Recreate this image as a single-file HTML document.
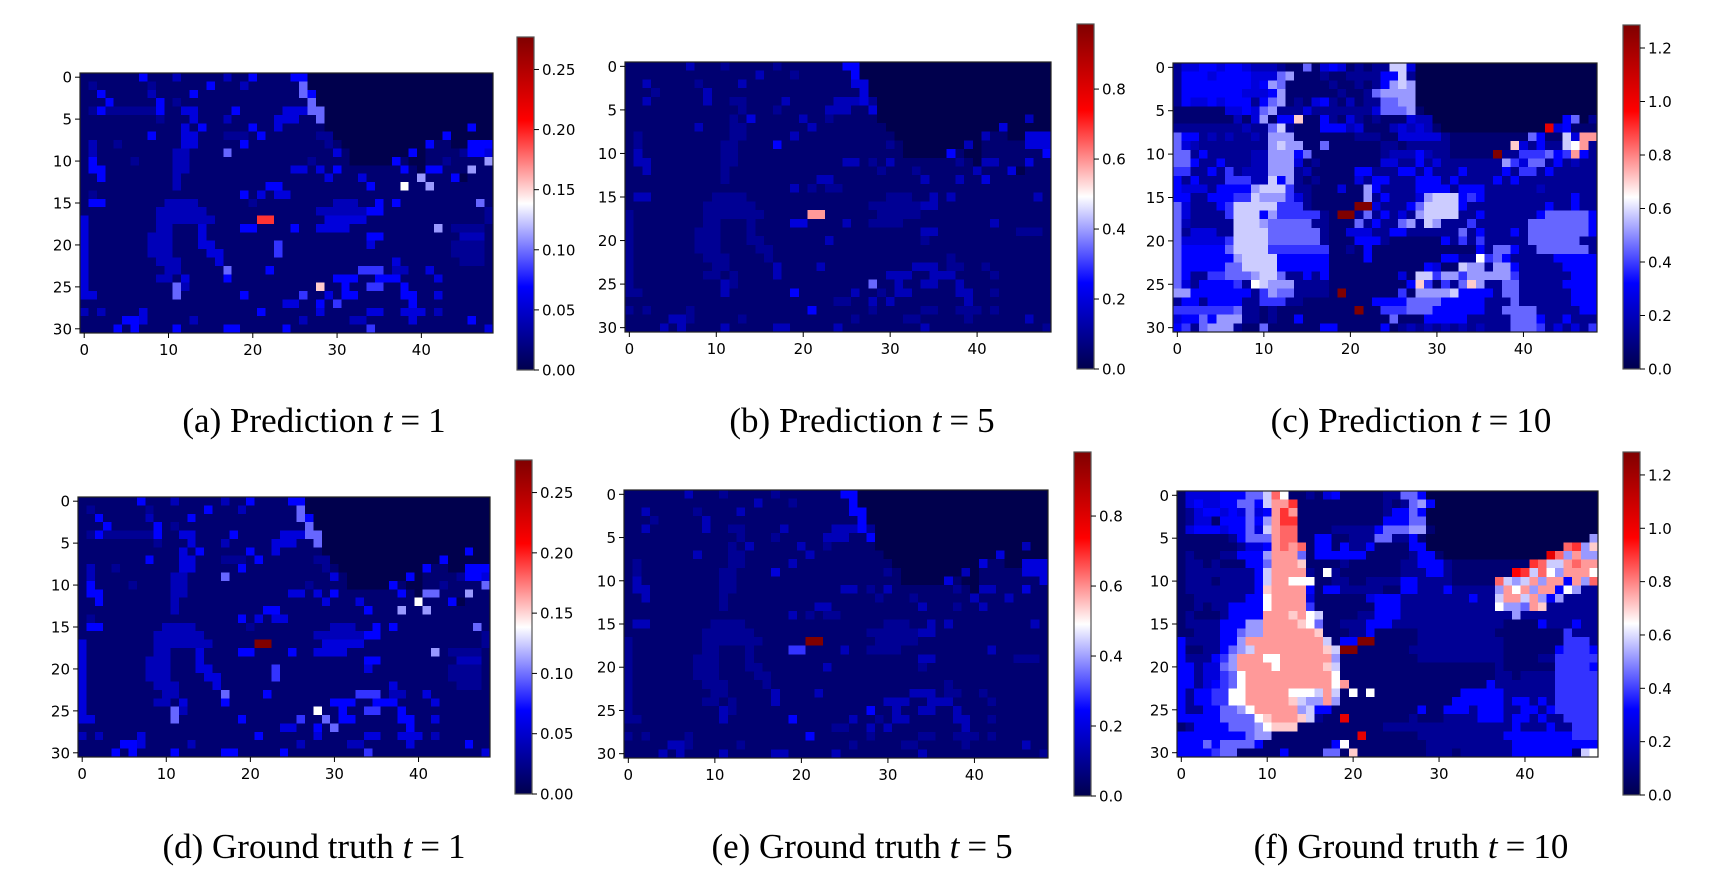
<!DOCTYPE html>
<html><head><meta charset="utf-8"><style>
html,body{margin:0;padding:0;background:#fff;}
svg{display:block;}
.tk{font-family:"DejaVu Sans",sans-serif;font-size:15px;fill:#000;}
.cap{font-family:"Liberation Serif",serif;font-size:35px;fill:#000;}
</style></head><body>
<svg id="fig" width="1710" height="882" viewBox="0 0 1710 882" xmlns="http://www.w3.org/2000/svg">
<defs>
<linearGradient id="seis" x1="0" y1="1" x2="0" y2="0">
<stop offset="0" stop-color="rgb(0,0,77)"/><stop offset="0.25" stop-color="rgb(0,0,255)"/><stop offset="0.5" stop-color="rgb(255,255,255)"/><stop offset="0.75" stop-color="rgb(255,0,0)"/><stop offset="1" stop-color="rgb(128,0,0)"/>
</linearGradient>
</defs>
</svg>
<script>
// level code: index in LEVELS => fraction of colorbar max (index/20)
const LEVELS = "0123456789ABCDEFGHIJK";
const xTickLabels = ["0","10","20","30","40"];
const yTickLabels = ["0","5","10","15","20","25","30"];
const captionLetters = ["a","b","c","d","e","f"];
const captionKinds = ["Prediction","Prediction","Prediction","Ground truth","Ground truth","Ground truth"];
const captionTimes = ["1","5","10","1","5","10"];
const vmaxValues = [0.277, 0.986, 1.286, 0.277, 0.983, 1.286];
const cbTicksSmall = [0, 0.05, 0.10, 0.15, 0.20, 0.25];
const cbTicksMid = [0, 0.2, 0.4, 0.6, 0.8];
const cbTicksBig = [0, 0.2, 0.4, 0.6, 0.8, 1.0, 1.2];

const gridA = [
"1111111511 1311111311 5111155000 0000000000 000000000",
"1211111121 1111151113 1111117000 0000000000 000000000",
"1151111131 1115111111 1111117500 0000000000 000000000",
"1115111115 1211111111 1111111700 0000000000 000000000",
"1252222225 1144111151 1111444770 0000000000 000000000",
"1111111112 1114111311 1114441170 0000000000 000000000",
"1111111111 1141511111 5114111110 0000000000 000000500",
"1111111151 1144111222 1511111122 0000000000 000500000",
"1311211111 1144111115 1111111112 1000000000 051100555",
"1311111111 1331111711 1111111111 4100000005 011112554",
"1511112111 1331111111 1111111211 1100000510 011211118",
"1551111111 1331111111 1111144141 5111111151 055111811",
"1151111111 1311111111 1111111114 1114111111 811150111",
"1111111111 1311111111 1155111111 11115111A1 181111111",
"1211111111 1111111115 1414411111 1111111111 111111111",
"1551111111 3333111111 2111111111 3331151511 111111171",
"1111111113 3333311111 1111111133 3333551111 111111112",
"4111111113 3333331111 1EE1111114 4444111111 111111112",
"4111111113 3111411115 5111151144 4411111111 118122221",
"4111111133 3111411111 1111111111 1111551111 111113331",
"4111111133 3111441111 1116111111 1111411111 111122221",
"4111111133 3111144111 1116111111 1111111111 111122221",
"4111111113 3311114111 1111111111 1111111411 111112221",
"4111111111 3311111711 1151111111 1116661331 141111111",
"4111111113 3141111511 1111111111 5551155511 114111111",
"4111111111 1731111111 11111111B1 1511661151 111111111",
"4411111111 1711111115 1111116114 1551111155 114111111",
"1111111111 1111111111 1111441151 6111111115 111111111",
"3131111411 1111111111 1511111141 1111441144 413111111",
"1111155411 1113111111 1111113111 1133111114 111111511",
"1111515111 1511111551 1111511111 1111611111 111111114"];

const gridD = [
"1111111511 1311111311 5111155000 0000000000 000000000",
"1211111121 1111151113 1111117000 0000000000 000000000",
"1151111131 1115111111 1111117500 0000000000 000000000",
"1115111115 1211111111 1111111700 0000000000 000000000",
"1252222225 1144111151 1111444770 0000000000 000000000",
"1111111112 1114111311 1114441170 0000000000 000000000",
"1111111111 1141511111 5114111110 0000000000 000000500",
"1111111151 1144111222 1511111122 0000000000 000500000",
"1311211111 1144111115 1111111112 1000000000 051100555",
"1311111111 1331111711 1111111111 4100000005 011112554",
"1511112111 1331111111 1111111211 1100000510 011211117",
"1551111111 1331111111 1111144141 5111111151 077111811",
"1151111111 1311111111 1111111114 1114111111 A11150111",
"1111111111 1311111111 1155111111 1111511181 181111111",
"1211111111 1111111115 1414411111 1111111111 111111111",
"1551111111 3333111111 2111111111 3331151511 111111171",
"1111111113 3333311111 1111111133 3333551111 111111112",
"4111111113 3333331111 1KK1111114 4444111111 111111112",
"4111111113 3111411115 5111151144 4411111111 118122221",
"4111111133 3111411111 1111111111 1111551111 111113331",
"4111111133 3111441111 1116111111 1111411111 111122221",
"4111111133 3111144111 1116111111 1111111111 111122221",
"4111111113 3311114111 1111111111 1111111411 111112221",
"4111111111 3311111711 1151111111 1116661331 141111111",
"4111111113 3141111511 1111111111 5551155511 114111111",
"4111111111 1731111111 11111111A1 1511661151 111111111",
"4411111111 1711111115 1111116117 1551111155 114111111",
"1111111111 1111111111 1111441151 7111111115 111111111",
"3131111411 1111111111 1511111141 1111441144 413111111",
"1111155411 1113111111 1111113111 1133111114 111111511",
"1111515111 1511111551 1111511111 1111611111 111111114"];

const gridB = [
"1111111311 1211111211 1111155000 0000000000 000000000",
"1111111111 1111131112 1111115000 0000000000 000000000",
"1131111121 1113111111 1111114400 0000000000 000000000",
"1112111113 1111111111 1111111400 0000000000 000000000",
"1131111113 1122111131 1111333420 0000000000 000000000",
"1111111111 1112111211 1113331140 0000000000 000000000",
"1111111111 1121411111 3112111110 0000000000 000000300",
"1111111131 1122111111 1311111111 0000000000 000400000",
"1211111111 1122111113 1111111111 1000000000 031100444",
"1211111111 1221111511 1111111111 2100000003 011111444",
"1311111111 1221111111 1111111111 1100000510 011111115",
"1331111111 1221111111 1111133121 3111111121 033111411",
"1131111111 1211111111 1111111112 1112111111 311140111",
"1111111111 1211111111 1133111111 1111311131 141111111",
"1111111111 1111111113 1212211111 1111111111 111111111",
"1331111111 2222111111 1111111111 2221131311 111111131",
"1111111112 2222211111 1111111122 2222331111 111111111",
"2111111112 2222221111 1CC1111112 2222111111 111111111",
"2111111112 2111211114 4111131122 2211111111 113111111",
"2111111122 2111211111 1111111111 1111331111 111112221",
"2111111122 2111221111 1113111111 1111211111 111111111",
"2111111122 2111122111 1111111111 1111111111 111111111",
"2111111112 2211112111 1111111111 1111111211 111111111",
"2111111111 2211111311 1131111111 1113331221 121111111",
"2111111112 2121111311 1111111111 3331133311 112111111",
"2111111111 1321111111 1111111171 1311331131 111111111",
"2211111111 1311111115 1111113112 1331111133 112111111",
"1111111111 1111111111 1111221131 3111111113 111111111",
"2121111211 1111111111 1511111121 1111221122 212111111",
"1111133211 1112111111 1111112111 1122111112 111111311",
"1111313111 1311111331 1111311111 1111311111 111111112"];

const gridE = [
"1111111311 1211111211 1111155000 0000000000 000000000",
"1111111111 1111131112 1111115000 0000000000 000000000",
"1131111121 1113111111 1111115500 0000000000 000000000",
"1112111113 1111111111 1111111500 0000000000 000000000",
"1131111113 1122111131 1111333520 0000000000 000000000",
"1111111111 1112111211 1113331150 0000000000 000000000",
"1111111111 1121311111 3112111110 0000000000 000000300",
"1111111131 1122111111 1311111111 0000000000 000400000",
"1211111111 1122111113 1111111111 1000000000 041100444",
"1211111111 1221111411 1111111111 2100000003 011111444",
"1311111111 1221111111 1111111111 1100000410 011111114",
"1331111111 1221111111 1111133121 3111111121 033111411",
"1131111111 1211111111 1111111112 1112111111 311131111",
"1111111111 1211111111 1133111111 1111311121 131111111",
"1111111111 1111111113 1212211111 1111111111 111111111",
"1331111111 2222111111 1111111111 2221131311 111111131",
"1111111112 2222211111 1111111122 2222331111 111111111",
"2111111112 2222221111 1KK1111112 2222111111 111111111",
"2111111112 2111211116 6111131122 2211111111 113111111",
"2111111122 2111211111 1111111111 1111331111 111112221",
"2111111122 2111221111 1113111111 1111211111 111111111",
"2111111122 2111122111 1111111111 1111111111 111111111",
"2111111112 2211112111 1111111111 1111111211 111111111",
"2111111111 2211111311 1131111111 1113331221 121111111",
"2111111112 2121111311 1111111111 3331133311 112111111",
"2111111111 1321111111 1111111151 1311331131 111111111",
"2211111111 1311111115 1111113112 1331111133 112111111",
"1111111111 1111111111 1111221131 3111111113 111111111",
"2121111211 1111111111 1511111121 1111221122 212111111",
"1111133211 1112111111 1111112111 1122111112 111111311",
"1111313111 1311111331 1111311111 1111311111 111111112"];

const gridC = [
"2445545543 3321171454 1212299400 0000000000 000000000",
"2555455554 4478111211 2222559200 0000000000 000000000",
"2555555554 5871111121 1212589800 0000000000 000000000",
"2555555544 4581111112 1127888800 0000000000 000000000",
"2544545552 5781214521 3122778800 0000000000 000000000",
"1111114454 7822242222 2224777810 0000000000 000000000",
"1111111314 8155B11521 4212111433 0000000000 000005702",
"2222222232 2792111555 3411134343 1000000000 000G45111",
"7552323223 2888111111 1222114444 4211111111 1751194CC",
"7432222222 2898811711 1111221222 221111111B 425229AC2",
"7725222223 3888571111 1111233353 2211111K22 666756C52",
"7752252223 3888412111 1111442252 4222222286 477252322",
"6622526233 3888231111 1552225525 2225222252 662522222",
"5252226663 3958212111 1425522255 5252222525 222222222",
"5444255558 9996221114 1185222255 5525552222 223222222",
"5522555669 8886421111 1182522248 9995652222 222222522",
"7422256999 9966621111 1KK4222579 9995222222 222522522",
"7422226999 586666621K K272524289 9992252222 225777775",
"7322222999 8777772211 1725227829 8222622222 277777775",
"7244422999 9777777211 4442255222 2227252225 277777775",
"7444446999 9777777211 1555211111 1526262222 277777722",
"7555557999 9666666611 2151111111 1111152775 227777772",
"7555555899 9955555511 1151111111 15522A6752 222255555",
"7555557799 9955555511 1111111115 4119882885 222225555",
"7522667778 9972252511 1111114199 6886888886 222222555",
"742555562A 9888222211 11111115B6 1627B82277 222225555",
"8855555552 687722221K 1111116188 8895555277 222222555",
"2552555522 6662211111 1115555777 7555552227 222222555",
"6666666722 1211111111 1K11666777 5555552277 772222255",
"4557588822 1211511111 1111171115 5555222227 775225222",
"5627888211 7111111551 1111512323 2323232227 776242426"];

const gridF = [
"1444455577 9DA1121451 1111227750 0000000000 000000000",
"1454455775 9CCE111111 1111212785 0000000000 000000000",
"1245545474 5CEC111111 1111255750 0000000000 000000000",
"1244155575 8CEE111111 1111555770 0000000000 000000000",
"1455545574 9CDD111122 2225777881 0000000000 000000000",
"1111112577 7CDD115511 2227722510 0000000000 000000008",
"1111111244 5CDCD15515 2251111550 0000000000 00000DE8B",
"1211122555 8CCC715555 5511111255 1000000000 000GD8C88",
"1221211155 7CCCB11112 1111112255 5211111111 1ED99CDCC",
"1222222225 9CCCC21A21 1111112225 521111111F E9DA8CCCA",
"1222122225 9CCAAA1122 1122225522 2211111D98 9C8CC5C8D",
"1222222225 BCCCC51552 2222115522 25222228CA C8CC5A822",
"1122222255 ACCCC41111 1145552222 22225229CC 9C8582222",
"1121225555 ACCCC61111 1115552222 2222222A88 7CB222222",
"1211125555 CCCBCA9111 1225552222 2222222228 222222222",
"1222255588 CCCCBA7112 2255522222 2222222211 115222522",
"1122255788 CCCCCCB111 2251111122 2222222111 111116222",
"52222558CC CCCCCCC915 5KK1111122 2222222211 111116662",
"511225789C CCCCCCCB9K K111111222 2222222211 111156665",
"5222568CCC AACCCCCC81 1111111122 2222222211 112266666",
"5524478CCC CACCCCCB91 1111111111 1111111211 111166665",
"5524467ACC CCCCCCCCA1 1111111111 1111111221 222266666",
"5524567ACC CCCCCCCCAC 1111111111 1111115222 222266666",
"525566AACC CCCAAA9C91 A1A1111111 1115555522 222266666",
"525566AACC CCCB988C81 1111111111 1155555525 525266666",
"52255778AC CCCC895511 1111111151 1555255522 552566666",
"555557777A BCCCB9211G 1111111211 1222255525 525226666",
"1255557778 ABBB111111 1111222222 2222222225 222522666",
"5555555578 8111111111 1G11111122 2222222255 555555666",
"5557577775 111111115A 1111111112 2222222225 555555555",
"5555677111 1151111771 B111111112 2212222225 55555519A"];

const grids = [gridA, gridB, gridC, gridD, gridE, gridF];
const cbTickSets = [cbTicksSmall, cbTicksMid, cbTicksBig, cbTicksSmall, cbTicksMid, cbTicksBig];
const cbTickDigits = [2,1,1,2,1,1];

// layout (not data)
const axesBoxes = [[80,73,493,333],[625,62,1051,332],[1173,63,1597,332],[78,497,490,757],[624,490,1048,758],[1177,491,1598,757]];
const cbarBoxes = [[517,37,534,370],[1077,24,1094,369],[1623,25,1640,369],[515,460,532,794],[1074,452,1091,796],[1623,452,1640,795]];
const captionPos = [[314,432],[862,432],[1411,432],[314,858],[862,858],[1411,858]];

const NS = "http://www.w3.org/2000/svg";
const svg = document.getElementById("fig");
function mk(tag, attrs, parent){const e=document.createElementNS(NS,tag);for(const k in attrs)e.setAttribute(k,attrs[k]);(parent||svg).appendChild(e);return e;}
function seismic(t){
  t=Math.max(0,Math.min(1,t));
  const st=[[0,0,0,77],[0.25,0,0,255],[0.5,255,255,255],[0.75,255,0,0],[1,128,0,0]];
  for(let i=0;i<4;i++){const a=st[i],b=st[i+1];if(t<=b[0]){const f=(t-a[0])/(b[0]-a[0]);
    return "rgb("+Math.round(a[1]+f*(b[1]-a[1]))+","+Math.round(a[2]+f*(b[2]-a[2]))+","+Math.round(a[3]+f*(b[3]-a[3]))+")";}}
  return "rgb(128,0,0)";
}
function decodeRow(s){let r=s.replace(/\s/g,"");while(r.length<49)r+="1";r=r.slice(0,49);return r.split("").map(ch=>Math.max(0,LEVELS.indexOf(ch))/20);}

for(let p=0;p<6;p++){
  const g=mk("g",{});
  
  
  const [x0,y0,x1,y1]=axesBoxes[p];
  const nR=31,nC=49;
  const cw=(x1-x0)/nC, ch=(y1-y0)/nR;
  const xScale=c=>x0+c*cw, yScale=r=>y0+r*ch;
  const vmax=vmaxValues[p];
  const hm=mk("g",{"shape-rendering":"crispEdges"},g);
  
  
  const rows=grids[p].map(decodeRow);
  for(let r=0;r<nR;r++){
    for(let c=0;c<nC;c++){
      const val=rows[r][c]*vmax;
      const rc=mk("rect",{x:xScale(c).toFixed(2),y:yScale(r).toFixed(2),width:(cw+0.6).toFixed(2),height:(ch+0.6).toFixed(2),fill:seismic(val/vmax)},hm);
      
      
    }
  }
  const fr=mk("rect",{x:x0,y:y0,width:x1-x0,height:y1-y0,fill:"none",stroke:"#222","stroke-width":1.2},g);
  
  
  xTickLabels.forEach(lab=>{
    const xv=xScale(+lab+0.5);
    mk("line",{x1:xv,y1:y1,x2:xv,y2:y1+5,stroke:"#000","stroke-width":1},g);
    const t=mk("text",{x:xv,y:y1+22,"text-anchor":"middle",class:"tk"},g);t.textContent=lab;
    
    
  });
  yTickLabels.forEach(lab=>{
    const yv=yScale(+lab+0.5);
    mk("line",{x1:x0-5,y1:yv,x2:x0,y2:yv,stroke:"#000","stroke-width":1},g);
    const t=mk("text",{x:x0-8,y:yv+5.5,"text-anchor":"end",class:"tk"},g);t.textContent=lab;
    
    
  });
  const [cx0,cy0,cx1,cy1]=cbarBoxes[p];
  const cb=mk("rect",{x:cx0,y:cy0,width:cx1-cx0,height:cy1-cy0,fill:"url(#seis)",stroke:"#555","stroke-width":1.2},g);
  
  
  const cbY=v=>cy1-(v/vmax)*(cy1-cy0);
  cbTickSets[p].forEach(v=>{
    const yv=cbY(v);
    mk("line",{x1:cx1,y1:yv,x2:cx1+5,y2:yv,stroke:"#000","stroke-width":1},g);
    const t=mk("text",{x:cx1+8,y:yv+5.5,class:"tk"},g);t.textContent=v.toFixed(cbTickDigits[p]);
    
    
  });
  const [capx,capy]=captionPos[p];
  const cap=mk("text",{x:capx,y:capy,"text-anchor":"middle",class:"cap","xml:space":"preserve"},g);
  
  
  const s1=mk("tspan",{},cap);s1.textContent="("+captionLetters[p]+") "+captionKinds[p]+" ";
  const s2=mk("tspan",{"font-style":"italic"},cap);s2.textContent="t";
  const s3=mk("tspan",{dx:"8"},cap);s3.textContent="=";
  const s4=mk("tspan",{dx:"8"},cap);s4.textContent=captionTimes[p];
}
</script>
</body></html>
